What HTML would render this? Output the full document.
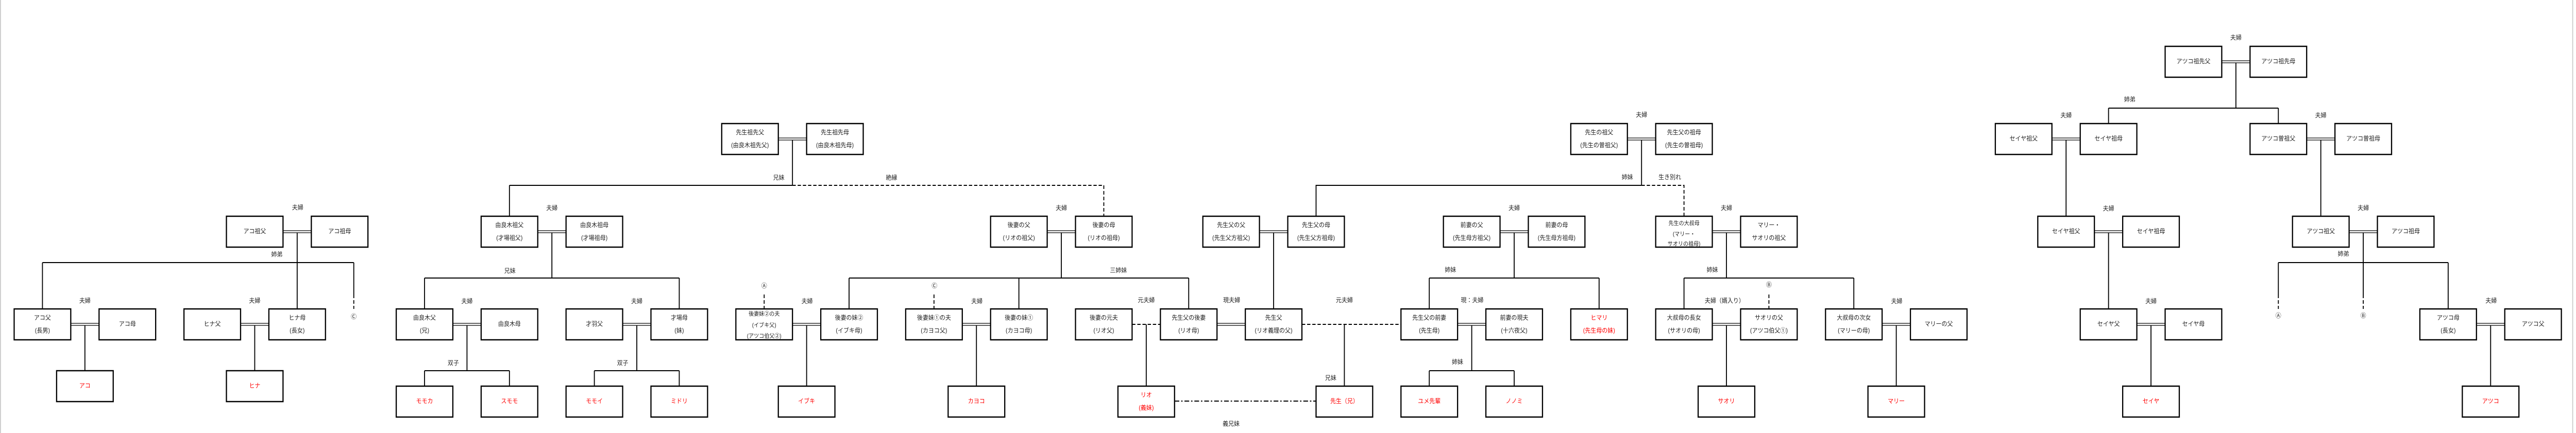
<!DOCTYPE html>
<html><head><meta charset="utf-8"><style>
html,body{margin:0;padding:0;background:#fff;overflow:hidden;width:100%;height:100%;}
svg{display:block;width:100vw;height:100vh;}
text{font-family:"Liberation Sans","Noto Sans CJK JP",sans-serif;font-size:12px;fill:#222;text-anchor:middle;dominant-baseline:central;}
.r{fill:#f00;}
.s{font-size:11px;}
rect{fill:#fff;stroke:#000;stroke-width:2.5;}
.l{stroke:#000;stroke-width:2;fill:none;}
.d{stroke:#000;stroke-width:2;fill:none;stroke-dasharray:7,4;}
.dd{stroke:#000;stroke-width:2;fill:none;stroke-dasharray:10,4,3,4;}
.c{stroke:#000;stroke-width:1.3;}
</style></head><body>
<svg viewBox="0 0 5461 841" preserveAspectRatio="none" xmlns="http://www.w3.org/2000/svg">
<line x1="1" y1="0" x2="1" y2="841" stroke="#ccc" stroke-width="2"/>
<line x1="5454" y1="0" x2="5454" y2="841" stroke="#ccc" stroke-width="2"/>

<g>
<g class="c">
<line x1="600" y1="448" x2="660" y2="448"/><line x1="600" y1="452" x2="660" y2="452"/>
<line x1="1140" y1="448" x2="1200" y2="448"/><line x1="1140" y1="452" x2="1200" y2="452"/>
<line x1="2220" y1="448" x2="2280" y2="448"/><line x1="2220" y1="452" x2="2280" y2="452"/>
<line x1="2670" y1="448" x2="2730" y2="448"/><line x1="2670" y1="452" x2="2730" y2="452"/>
<line x1="3180" y1="448" x2="3240" y2="448"/><line x1="3180" y1="452" x2="3240" y2="452"/>
<line x1="3630" y1="448" x2="3690" y2="448"/><line x1="3630" y1="452" x2="3690" y2="452"/>
<line x1="4440" y1="448" x2="4500" y2="448"/><line x1="4440" y1="452" x2="4500" y2="452"/>
<line x1="4980" y1="448" x2="5040" y2="448"/><line x1="4980" y1="452" x2="5040" y2="452"/>
<line x1="1650" y1="268" x2="1710" y2="268"/><line x1="1650" y1="272" x2="1710" y2="272"/>
<line x1="3450" y1="268" x2="3510" y2="268"/><line x1="3450" y1="272" x2="3510" y2="272"/>
<line x1="4350" y1="268" x2="4410" y2="268"/><line x1="4350" y1="272" x2="4410" y2="272"/>
<line x1="4890" y1="268" x2="4950" y2="268"/><line x1="4890" y1="272" x2="4950" y2="272"/>
<line x1="4710" y1="118" x2="4770" y2="118"/><line x1="4710" y1="122" x2="4770" y2="122"/>
<line x1="150" y1="628" x2="210" y2="628"/><line x1="150" y1="632" x2="210" y2="632"/>
<line x1="510" y1="628" x2="570" y2="628"/><line x1="510" y1="632" x2="570" y2="632"/>
<line x1="960" y1="628" x2="1020" y2="628"/><line x1="960" y1="632" x2="1020" y2="632"/>
<line x1="1320" y1="628" x2="1380" y2="628"/><line x1="1320" y1="632" x2="1380" y2="632"/>
<line x1="1680" y1="628" x2="1740" y2="628"/><line x1="1680" y1="632" x2="1740" y2="632"/>
<line x1="2040" y1="628" x2="2100" y2="628"/><line x1="2040" y1="632" x2="2100" y2="632"/>
<line x1="2580" y1="628" x2="2640" y2="628"/><line x1="2580" y1="632" x2="2640" y2="632"/>
<line x1="3090" y1="628" x2="3150" y2="628"/><line x1="3090" y1="632" x2="3150" y2="632"/>
<line x1="3630" y1="628" x2="3690" y2="628"/><line x1="3630" y1="632" x2="3690" y2="632"/>
<line x1="3990" y1="628" x2="4050" y2="628"/><line x1="3990" y1="632" x2="4050" y2="632"/>
<line x1="4530" y1="628" x2="4590" y2="628"/><line x1="4530" y1="632" x2="4590" y2="632"/>
<line x1="5250" y1="628" x2="5310" y2="628"/><line x1="5250" y1="632" x2="5310" y2="632"/>
</g>

<path class="l" d="M630 452V510M90 510H750M90 510V600M630 510V600M750 510V572"/>
<path class="d" d="M750 572V600"/>
<path class="l" d="M180 632V720M540 632V720"/>
<path class="l" d="M1080 360V420M1170 452V540M900 540H1440M900 540V600M1440 540V600"/>
<path class="l" d="M990 632V720M900 720H1080M900 720V750M1080 720V750"/>
<path class="l" d="M1350 632V720M1260 720H1440M1260 720V750M1440 720V750"/>
<path class="l" d="M1680 272V360M1080 360H1680"/>
<path class="d" d="M1680 360H2340V420"/>
<path class="l" d="M2250 452V540M1800 540H2520M1800 540V600M2160 540V600M2520 540V600"/>
<path class="d" d="M1620 572V600M1980 572V600"/>
<path class="l" d="M1710 632V750M2070 632V750"/>
<path class="d" d="M2400 630H2460"/>
<path class="l" d="M2430 630V750"/>
<path class="l" d="M2700 452V600M2790 420V360H3480M3480 272V360"/>
<path class="d" d="M2760 630H2970"/>
<path class="l" d="M2850 630V750"/>
<path class="d" d="M3480 360H3570V420"/>
<path class="dd" d="M2490 779H2790"/>
<path class="l" d="M3210 452V540M3030 540H3390M3030 540V600M3390 540V600"/>
<path class="l" d="M3120 632V720M3030 720H3210M3030 720V750M3210 720V750"/>
<path class="l" d="M3660 452V540M3570 540H3930M3570 540V600M3930 540V600"/>
<path class="d" d="M3750 572V600"/>
<path class="l" d="M3660 632V750M4020 632V750"/>
<path class="l" d="M4740 122V210M4470 210H4830M4470 210V240M4830 210V240"/>
<path class="l" d="M4380 272V420M4920 272V420M4470 452V600M4560 632V750"/>
<path class="l" d="M5010 452V510M4830 510H5190M4830 510V572M5010 510V572M5190 510V600"/>
<path class="d" d="M4830 572V600M5010 572V600"/>
<path class="l" d="M5280 632V750"/>
</g>

<g>
<rect x="4590" y="90" width="120" height="60"/><text x="4650" y="120">アツコ祖先父</text>
<rect x="4770" y="90" width="120" height="60"/><text x="4830" y="120">アツコ祖先母</text>
<rect x="1530" y="240" width="120" height="60"/><text x="1590" y="258">先生祖先父</text><text x="1590" y="283">(由良木祖先父)</text>
<rect x="1710" y="240" width="120" height="60"/><text x="1770" y="258">先生祖先母</text><text x="1770" y="283">(由良木祖先母)</text>
<rect x="3330" y="240" width="120" height="60"/><text x="3390" y="258">先生の祖父</text><text x="3390" y="283">(先生の曽祖父)</text>
<rect x="3510" y="240" width="120" height="60"/><text x="3570" y="258">先生父の祖母</text><text x="3570" y="283">(先生の曽祖母)</text>
<rect x="4230" y="240" width="120" height="60"/><text x="4290" y="270">セイヤ祖父</text>
<rect x="4410" y="240" width="120" height="60"/><text x="4470" y="270">セイヤ祖母</text>
<rect x="4770" y="240" width="120" height="60"/><text x="4830" y="270">アツコ曽祖父</text>
<rect x="4950" y="240" width="120" height="60"/><text x="5010" y="270">アツコ曽祖母</text>
<rect x="480" y="420" width="120" height="60"/><text x="540" y="450">アコ祖父</text>
<rect x="660" y="420" width="120" height="60"/><text x="720" y="450">アコ祖母</text>
<rect x="1020" y="420" width="120" height="60"/><text x="1080" y="438">由良木祖父</text><text x="1080" y="463">(才場祖父)</text>
<rect x="1200" y="420" width="120" height="60"/><text x="1260" y="438">由良木祖母</text><text x="1260" y="463">(才場祖母)</text>
<rect x="2100" y="420" width="120" height="60"/><text x="2160" y="438">後妻の父</text><text x="2160" y="463">(リオの祖父)</text>
<rect x="2280" y="420" width="120" height="60"/><text x="2340" y="438">後妻の母</text><text x="2340" y="463">(リオの祖母)</text>
<rect x="2550" y="420" width="120" height="60"/><text x="2610" y="438">先生父の父</text><text x="2610" y="463">(先生父方祖父)</text>
<rect x="2730" y="420" width="120" height="60"/><text x="2790" y="438">先生父の母</text><text x="2790" y="463">(先生父方祖母)</text>
<rect x="3060" y="420" width="120" height="60"/><text x="3120" y="438">前妻の父</text><text x="3120" y="463">(先生母方祖父)</text>
<rect x="3240" y="420" width="120" height="60"/><text x="3300" y="438">前妻の母</text><text x="3300" y="463">(先生母方祖母)</text>
<rect x="3510" y="420" width="120" height="60"/><text class="s" x="3570" y="434">先生の大叔母</text><text class="s" x="3570" y="455">(マリー・</text><text class="s" x="3570" y="474">サオリの祖母)</text>
<rect x="3690" y="420" width="120" height="60"/><text x="3750" y="438">マリー・</text><text x="3750" y="463">サオリの祖父</text>
<rect x="4320" y="420" width="120" height="60"/><text x="4380" y="450">セイヤ祖父</text>
<rect x="4500" y="420" width="120" height="60"/><text x="4560" y="450">セイヤ祖母</text>
<rect x="4860" y="420" width="120" height="60"/><text x="4920" y="450">アツコ祖父</text>
<rect x="5040" y="420" width="120" height="60"/><text x="5100" y="450">アツコ祖母</text>
<rect x="30" y="600" width="120" height="60"/><text x="90" y="618">アコ父</text><text x="90" y="643">(長男)</text>
<rect x="210" y="600" width="120" height="60"/><text x="270" y="630">アコ母</text>
<rect x="390" y="600" width="120" height="60"/><text x="450" y="630">ヒナ父</text>
<rect x="570" y="600" width="120" height="60"/><text x="630" y="618">ヒナ母</text><text x="630" y="643">(長女)</text>
<rect x="840" y="600" width="120" height="60"/><text x="900" y="618">由良木父</text><text x="900" y="643">(兄)</text>
<rect x="1020" y="600" width="120" height="60"/><text x="1080" y="630">由良木母</text>
<rect x="1200" y="600" width="120" height="60"/><text x="1260" y="630">才羽父</text>
<rect x="1380" y="600" width="120" height="60"/><text x="1440" y="618">才場母</text><text x="1440" y="643">(妹)</text>
<rect x="1560" y="600" width="120" height="60"/><text class="s" x="1620" y="610">後妻妹②の夫</text><text class="s" x="1620" y="632">(イブキ父)</text><text class="s" x="1620" y="653">(アツコ伯父②)</text>
<rect x="1740" y="600" width="120" height="60"/><text x="1800" y="618">後妻の妹②</text><text x="1800" y="643">(イブキ母)</text>
<rect x="1920" y="600" width="120" height="60"/><text x="1980" y="618">後妻妹①の夫</text><text x="1980" y="643">(カヨコ父)</text>
<rect x="2100" y="600" width="120" height="60"/><text x="2160" y="618">後妻の妹①</text><text x="2160" y="643">(カヨコ母)</text>
<rect x="2280" y="600" width="120" height="60"/><text x="2340" y="618">後妻の元夫</text><text x="2340" y="643">(リオ父)</text>
<rect x="2460" y="600" width="120" height="60"/><text x="2520" y="618">先生父の後妻</text><text x="2520" y="643">(リオ母)</text>
<rect x="2640" y="600" width="120" height="60"/><text x="2700" y="618">先生父</text><text x="2700" y="643">(リオ義理の父)</text>
<rect x="2970" y="600" width="120" height="60"/><text x="3030" y="618">先生父の前妻</text><text x="3030" y="643">(先生母)</text>
<rect x="3150" y="600" width="120" height="60"/><text x="3210" y="618">前妻の現夫</text><text x="3210" y="643">(十六夜父)</text>
<rect x="3330" y="600" width="120" height="60"/><text class="r" x="3390" y="618">ヒマリ</text><text class="r" x="3390" y="643">(先生母の妹)</text>
<rect x="3510" y="600" width="120" height="60"/><text x="3570" y="618">大叔母の長女</text><text x="3570" y="643">(サオリの母)</text>
<rect x="3690" y="600" width="120" height="60"/><text x="3750" y="618">サオリの父</text><text x="3750" y="643">(アツコ伯父①)</text>
<rect x="3870" y="600" width="120" height="60"/><text x="3930" y="618">大叔母の次女</text><text x="3930" y="643">(マリーの母)</text>
<rect x="4050" y="600" width="120" height="60"/><text x="4110" y="630">マリーの父</text>
<rect x="4410" y="600" width="120" height="60"/><text x="4470" y="630">セイヤ父</text>
<rect x="4590" y="600" width="120" height="60"/><text x="4650" y="630">セイヤ母</text>
<rect x="5130" y="600" width="120" height="60"/><text x="5190" y="618">アツコ母</text><text x="5190" y="643">(長女)</text>
<rect x="5310" y="600" width="120" height="60"/><text x="5370" y="630">アツコ父</text>
<rect x="120" y="720" width="120" height="60"/><text class="r" x="180" y="750">アコ</text>
<rect x="480" y="720" width="120" height="60"/><text class="r" x="540" y="750">ヒナ</text>
<rect x="840" y="750" width="120" height="60"/><text class="r" x="900" y="780">モモカ</text>
<rect x="1020" y="750" width="120" height="60"/><text class="r" x="1080" y="780">スモモ</text>
<rect x="1200" y="750" width="120" height="60"/><text class="r" x="1260" y="780">モモイ</text>
<rect x="1380" y="750" width="120" height="60"/><text class="r" x="1440" y="780">ミドリ</text>
<rect x="1650" y="750" width="120" height="60"/><text class="r" x="1710" y="780">イブキ</text>
<rect x="2010" y="750" width="120" height="60"/><text class="r" x="2070" y="780">カヨコ</text>
<rect x="2370" y="750" width="120" height="60"/><text class="r" x="2430" y="768">リオ</text><text class="r" x="2430" y="793">(義妹)</text>
<rect x="2790" y="750" width="120" height="60"/><text class="r" x="2850" y="780">先生（兄）</text>
<rect x="2970" y="750" width="120" height="60"/><text class="r" x="3030" y="780">ユメ先輩</text>
<rect x="3150" y="750" width="120" height="60"/><text class="r" x="3210" y="780">ノノミ</text>
<rect x="3600" y="750" width="120" height="60"/><text class="r" x="3660" y="780">サオリ</text>
<rect x="3960" y="750" width="120" height="60"/><text class="r" x="4020" y="780">マリー</text>
<rect x="4500" y="750" width="120" height="60"/><text class="r" x="4560" y="780">セイヤ</text>
<rect x="5220" y="750" width="120" height="60"/><text class="r" x="5280" y="780">アツコ</text>
</g>

<g>
<text x="631" y="404">夫婦</text><text x="587" y="495">姉弟</text>
<text x="180" y="585">夫婦</text><text x="540" y="585">夫婦</text><text x="750" y="616">Ⓒ</text>
<text x="1170" y="405">夫婦</text><text x="1081" y="527">兄妹</text>
<text x="990" y="586">夫婦</text><text x="1350" y="586">夫婦</text>
<text x="961" y="706">双子</text><text x="1320" y="706">双子</text>
<text x="1651" y="346">兄妹</text><text x="1890" y="346">絶縁</text>
<text x="2250" y="405">夫婦</text><text x="2371" y="526">三姉妹</text>
<text x="1620" y="556">Ⓐ</text><text x="1981" y="556">Ⓒ</text>
<text x="1711" y="586">夫婦</text><text x="2071" y="586">夫婦</text>
<text x="2430" y="584">元夫婦</text><text x="2611" y="584">現夫婦</text><text x="2850" y="584">元夫婦</text>
<text x="2821" y="735">兄妹</text><text x="2610" y="824">義兄妹</text>
<text x="3210" y="405">夫婦</text><text x="3075" y="525">姉妹</text>
<text x="3121" y="584">現：夫婦</text><text x="3090" y="704">姉妹</text>
<text x="3480" y="224">夫婦</text><text x="3450" y="345">姉妹</text><text x="3540" y="345">生き別れ</text>
<text x="3660" y="405">夫婦</text><text x="3630" y="525">姉妹</text><text x="3750" y="554">Ⓑ</text>
<text x="3656" y="585">夫婦（婿入り）</text><text x="4021" y="586">夫婦</text>
<text x="4740" y="74">夫婦</text><text x="4515" y="194">姉弟</text>
<text x="4380" y="225">夫婦</text><text x="4920" y="225">夫婦</text>
<text x="4470" y="406">夫婦</text><text x="5010" y="405">夫婦</text><text x="4968" y="494">姉弟</text>
<text x="4830" y="614">Ⓐ</text><text x="5010" y="614">Ⓑ</text>
<text x="4560" y="586">夫婦</text><text x="5281" y="585">夫婦</text>
</g>
</svg>
</body></html>
